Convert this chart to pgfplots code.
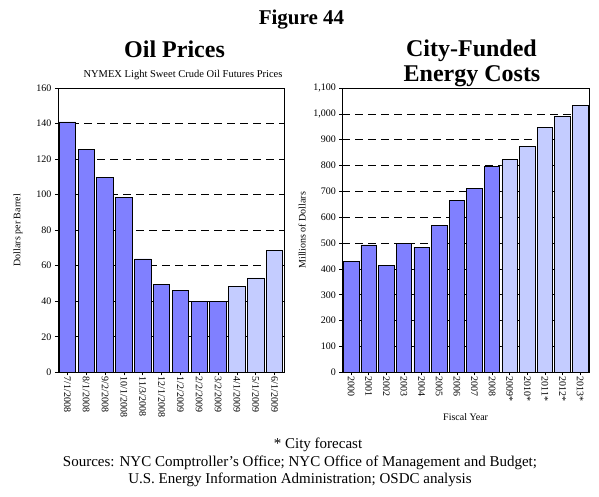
\documentclass[border=0pt]{standalone}
\usepackage{pgfplots}
\pgfplotsset{compat=1.18}
\usepackage{fontspec}
\setmainfont{Liberation Serif}
\definecolor{darkbar}{RGB}{128,128,255}
\definecolor{lightbar}{RGB}{196,204,255}
\pgfplotsset{
  commonax/.style={
    scale only axis,
    ymin=0,
    ymajorgrids,
    major grid style={black, dash pattern=on 8pt off 5pt, line width=0.6pt},
    tick pos=left,
    tick align=outside,
    major tick length=3pt,
    tick style={black, line width=0.6pt},
    axis line style={black, line width=0.8pt},
    ticklabel style={font=\fontsize{10}{10}\selectfont},
    xticklabel style={rotate=-90, anchor=west, inner sep=1pt},
    /pgf/number format/assume math mode=true,
    /pgf/number format/1000 sep={,},
    label style={font=\fontsize{10}{12}\selectfont},
    ybar,
    bar shift=0pt,
    every axis plot/.append style={draw=black, line width=0.7pt},
  }
}
\begin{document}
\begin{tikzpicture}[x=1pt,y=1pt]
\path (0,0) rectangle (599,496);
\begin{axis}[commonax,
  at={(58pt,123.7pt)}, anchor=south west,
  width=226pt, height=284.3pt,
  xmin=-0.5, xmax=11.5, ymax=160,
  ytick={0,20,...,160},
  xtick={0,1,...,11},
  xticklabels={7/1/2008,8/1/2008,9/2/2008,10/1/2008,11/3/2008,12/1/2008,1/2/2009,2/2/2009,3/2/2009,4/1/2009,5/1/2009,6/1/2009},
  bar width=16.5pt,
  ylabel={Dollars per Barrel},
  ylabel style={at={(axis description cs:-0.177,0.5)}, anchor=center},
]
\addplot[fill=darkbar] coordinates {(0,140.9) (1,125.2) (2,109.7) (3,98.6) (4,63.8) (5,49.3) (6,46.2) (7,40.1) (8,40.1)};
\addplot[fill=lightbar] coordinates {(9,48.3) (10,53.1) (11,68.5)};
\draw[black, line width=0.8pt] (axis cs:11.5,0) -- (axis cs:11.5,160);
\end{axis}
\begin{axis}[commonax,
  at={(342.3pt,123.7pt)}, anchor=south west,
  width=246.7pt, height=284.3pt,
  xmin=-0.5, xmax=13.5, ymax=1100,
  ytick={0,100,...,1100},
  xtick={0,1,...,13},
  xticklabels={2000,2001,2002,2003,2004,2005,2006,2007,2008,2009*,2010*,2011*,2012*,2013*},
  bar width=15.5pt,
  ylabel={Millions of Dollars},
  ylabel style={at={(axis description cs:-0.163,0.5)}, anchor=center},
  xlabel={Fiscal Year},
  xlabel style={at={(axis description cs:0.5,-0.157)}, anchor=center},
]
\addplot[fill=darkbar] coordinates {(0,430) (1,493) (2,413) (3,499) (4,484) (5,567) (6,665) (7,711) (8,795)};
\addplot[fill=lightbar] coordinates {(9,823) (10,874) (11,946) (12,990) (13,1032)};
\draw[black, line width=0.8pt] (axis cs:13.5,0) -- (axis cs:13.5,1100);
\end{axis}
\node[anchor=base, font=\fontsize{21}{21}\selectfont\bfseries] at (301.5,471) {Figure 44};
\node[anchor=base, font=\fontsize{24}{24}\selectfont\bfseries] at (174.5,438) {Oil Prices};
\node[anchor=base, font=\fontsize{10.5}{10.5}\selectfont] at (183,418) {NYMEX Light Sweet Crude Oil Futures Prices};
\node[anchor=base, font=\fontsize{24}{24}\selectfont\bfseries] at (471.5,439) {City-Funded};
\node[anchor=base, font=\fontsize{24}{24}\selectfont\bfseries] at (472,414) {Energy Costs};
\node[anchor=base, font=\fontsize{15}{15}\selectfont] at (318,48) {* City forecast};
\node[anchor=base, font=\fontsize{15}{15}\selectfont] at (300,29.3) {Sources: NYC Comptroller’s Office; NYC Office of Management and Budget;};
\node[anchor=base, font=\fontsize{15}{15}\selectfont] at (300,13) {U.S. Energy Information Administration; OSDC analysis};
\end{tikzpicture}
\end{document}
